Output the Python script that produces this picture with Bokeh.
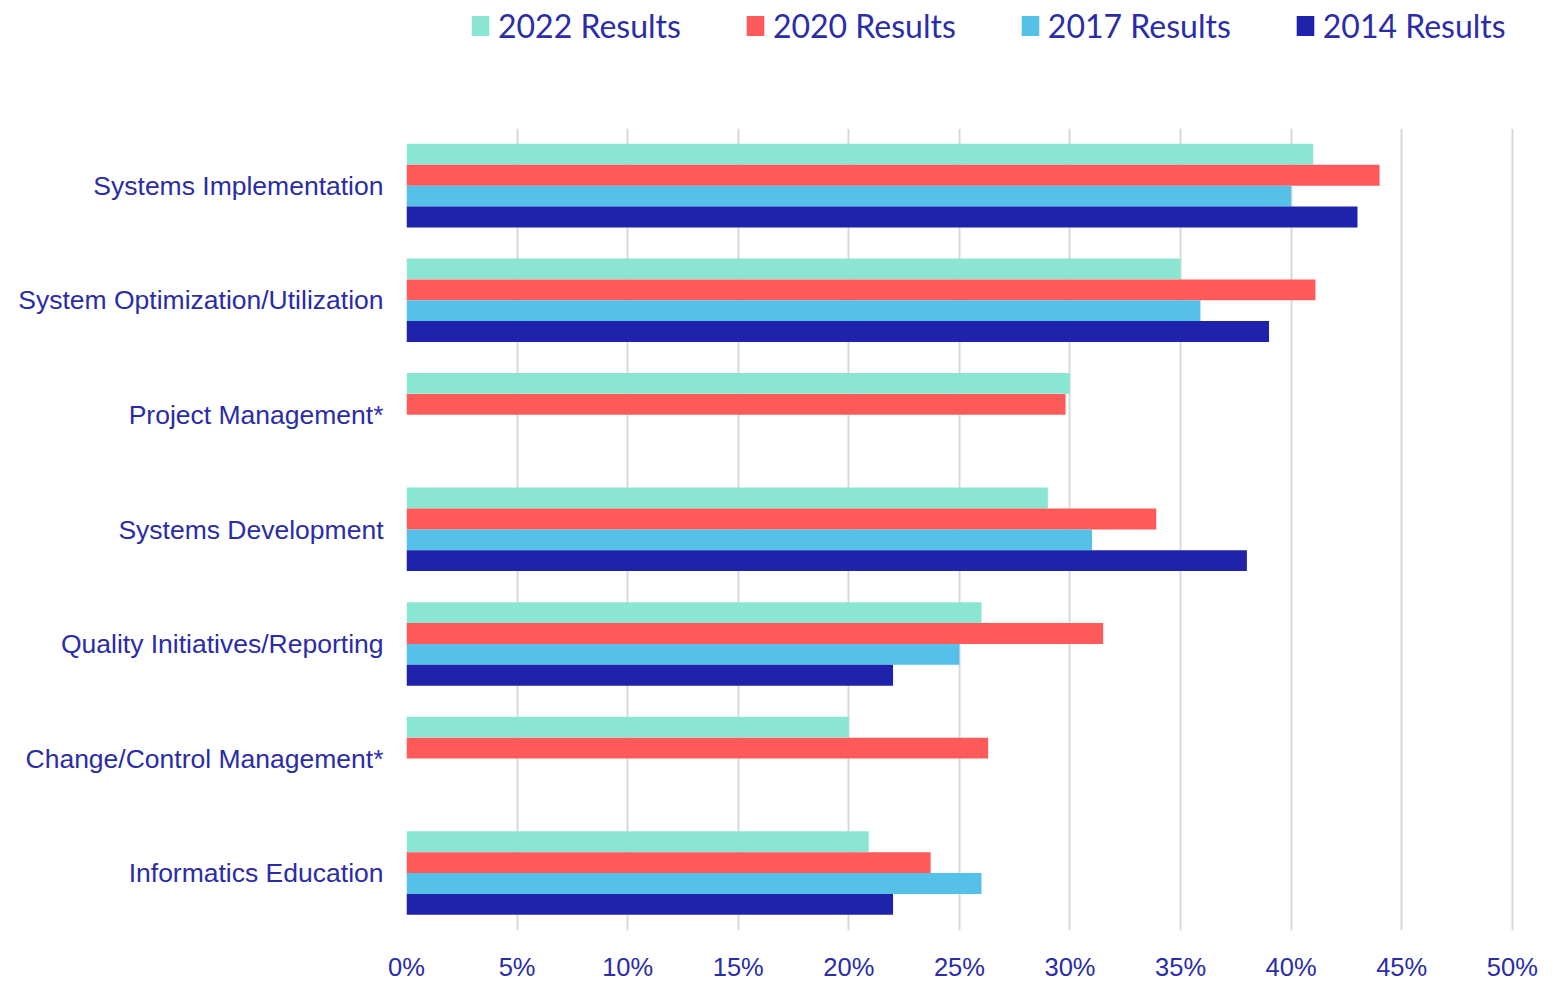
import math
from bokeh.plotting import figure
from bokeh.layouts import column
from bokeh.models import ColumnDataSource, FactorRange, Range1d, Legend, LegendItem, FixedTicker, CustomJSTickFormatter
from bokeh.transform import dodge
from bokeh.embed import file_html
from bokeh.resources import INLINE

nan = float("nan")
categories = ["Systems Implementation", "System Optimization/Utilization", "Project Management*",
              "Systems Development", "Quality Initiatives/Reporting", "Change/Control Management*",
              "Informatics Education"]
r2022 = [41.0, 35.0, 30.0, 29.0, 26.0, 20.0, 20.9]
r2020 = [44.0, 41.1, 29.8, 33.9, 31.5, 26.3, 23.7]
r2017 = [40.0, 35.9, nan, 31.0, 25.0, nan, 26.0]
r2014 = [43.0, 39.0, nan, 38.0, 22.0, nan, 22.0]
series_names = ["2022 Results", "2020 Results", "2017 Results", "2014 Results"]
x_ticks = [0, 5, 10, 15, 20, 25, 30, 35, 40, 45, 50]

colors = ["#8ae6d2", "#ff5a5a", "#55c0e8", "#1f22aa"]
text_color = "#2a2ca8"

src = ColumnDataSource(dict(cat=categories, r2022=r2022, r2020=r2020, r2017=r2017, r2014=r2014))

# ---- main chart ----
p = figure(width=1564, height=855, output_backend="svg", toolbar_location=None,
           y_range=FactorRange(factors=list(reversed(categories))),
           x_range=Range1d(0, 50.1))
p.min_border_left = 406
p.min_border_right = 50
p.min_border_top = 0
p.min_border_bottom = 0
p.outline_line_color = None
p.background_fill_color = "white"

offsets = [0.275, 0.092, -0.09, -0.272]
fields = ["r2022", "r2020", "r2017", "r2014"]
for f, off, c in zip(fields, offsets, colors):
    p.hbar(y=dodge("cat", off, range=p.y_range), left=0, right=f, height=0.182,
           source=src, fill_color=c, line_color=None)

p.ygrid.grid_line_color = None
p.xgrid.grid_line_color = "#d9d9d9"
p.xgrid.grid_line_width = 2

p.xaxis.ticker = FixedTicker(ticks=x_ticks)
p.xaxis.formatter = CustomJSTickFormatter(code="return tick + '%';")
p.xaxis.axis_line_color = None
p.xaxis.major_tick_line_color = None
p.xaxis.minor_tick_line_color = None
p.xaxis.major_tick_out = 0
p.xaxis.major_tick_in = 0
p.xaxis.minor_tick_out = 0
p.xaxis.major_label_text_font = "Liberation Sans"
p.xaxis.major_label_text_font_size = "25.5px"
p.xaxis.major_label_text_color = text_color
p.xaxis.major_label_standoff = 22

p.yaxis.axis_line_color = None
p.yaxis.major_tick_line_color = None
p.yaxis.minor_tick_line_color = None
p.yaxis.major_tick_out = 0
p.yaxis.major_tick_in = 0
p.yaxis.major_label_text_font = "Liberation Sans"
p.yaxis.major_label_text_font_size = "26.5px"
p.yaxis.major_label_text_color = text_color
p.yaxis.major_label_standoff = 23

# ---- legend strip (frame aligned with the chart's frame by the column layout) ----
lg = figure(width=1564, height=128, output_backend="svg", toolbar_location=None,
            x_range=Range1d(0, 1), y_range=Range1d(0, 1),
            x_axis_type=None, y_axis_type=None)
lg.min_border_left = 0
lg.min_border_right = 0
lg.min_border_top = 0
lg.min_border_bottom = 0
lg.outline_line_color = None
lg.xgrid.visible = False
lg.ygrid.visible = False
empty = ColumnDataSource(dict(y=[nan], right=[nan]))
dummy = [lg.hbar(y="y", left=0, right="right", height=0.1, source=empty,
                 fill_color=c, line_color=None) for c in colors]

items = [LegendItem(label=n, renderers=[r]) for n, r in zip(series_names, dummy)]
legend = Legend(items=items, orientation="horizontal", location=(63, 83),
                label_text_font="Lato", label_text_font_size="32px",
                label_text_color=text_color, glyph_width=22, glyph_height=25,
                label_standoff=7, spacing=63, padding=4, margin=0,
                border_line_color=None, background_fill_alpha=0)
lg.add_layout(legend, "center")

layout = column(lg, p, spacing=0)
open("out.html", "w").write(file_html(layout, INLINE))
